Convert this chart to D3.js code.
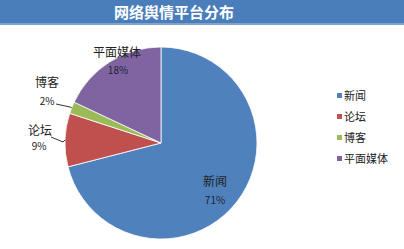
<!DOCTYPE html>
<html>
<head>
<meta charset="utf-8">
<script src="https://cdn.jsdelivr.net/npm/d3@7"></script>
<style>
  body { margin: 0; background: #fff; }
  text { font-family: "Noto Sans CJK SC", sans-serif; }
</style>
</head>
<body>
<div id="chart"></div>
<script>
// data
const categories = ["新闻", "论坛", "博客", "平面媒体"];
const values = [71, 9, 2, 18];
const colors = ["#4F81BD", "#C0504D", "#9BBB59", "#8064A2"];
const title = "网络舆情平台分布";

const w = 404, h = 249;
const cx = 161, cy = 143, r = 96;

const svg = d3.select("#chart").append("svg")
    .attr("width", w)
    .attr("height", h);

// title bar
svg.append("rect")
    .attr("x", 0).attr("y", 0)
    .attr("width", w).attr("height", 25)
    .attr("fill", "#4A7EBB");
svg.append("rect")
    .attr("x", 0).attr("y", 23)
    .attr("width", w).attr("height", 2)
    .attr("fill", "#7FA3D0");
svg.append("text")
    .attr("x", 174).attr("y", 18)
    .attr("text-anchor", "middle")
    .attr("fill", "#fff")
    .attr("font-size", 15)
    .attr("font-weight", "bold")
    .text(title);

const pie = d3.pie().sort(null).value(d => d);
const arcs = pie(values);
const arc = d3.arc().innerRadius(0).outerRadius(r);

const g = svg.append("g").attr("transform", `translate(${cx},${cy})`);
g.selectAll("path")
    .data(arcs)
    .enter().append("path")
    .attr("d", arc)
    .attr("fill", (d, i) => colors[i])
    .attr("stroke", "#fff")
    .attr("stroke-width", 0.8);

// labels: [name dx,dy, pct dx,dy] relative to center, anchor middle
const labelPos = [
  { name: [54, 43], pct: [54, 61] },
  { name: [-121, -8], pct: [-122, 7] },
  { name: [-114, -56], pct: [-114, -38] },
  { name: [-44, -86], pct: [-43, -69] }
];
arcs.forEach((d, i) => {
  const p = labelPos[i];
  g.append("text")
      .attr("x", p.name[0]).attr("y", p.name[1])
      .attr("text-anchor", "middle")
      .attr("font-size", 12)
      .attr("fill", "#222")
      .text(categories[i]);
  g.append("text")
      .attr("x", p.pct[0]).attr("y", p.pct[1])
      .attr("text-anchor", "middle")
      .attr("font-size", 10)
      .attr("fill", i == 0 || i == 3 ? "#223" : "#222")
      .text(Math.round(values[i]) + "%");
});

// leader lines for small slices
const leaders = [
  [1, [-110, -6], [-98, -1]],
  [2, [-105, -39], [-91, -36]]
];
leaders.forEach(l => {
  const mid = arc.centroid(arcs[l[0]]);
  const ang = (arcs[l[0]].startAngle + arcs[l[0]].endAngle) / 2;
  const ex = Math.sin(ang) * r, ey = -Math.cos(ang) * r;
  g.append("polyline")
      .attr("points", [l[1], l[2], [ex, ey]].map(p => p.join(",")).join(" "))
      .attr("fill", "none")
      .attr("stroke", "#000")
      .attr("stroke-width", 0.8);
});

// legend
const legend = svg.append("g").attr("transform", "translate(337,96)");
categories.forEach((c, i) => {
  legend.append("rect")
      .attr("x", 0).attr("y", i * 21 - 3)
      .attr("width", 5).attr("height", 5)
      .attr("fill", colors[i]);
  legend.append("text")
      .attr("x", 7).attr("y", i * 21 + 4)
      .attr("font-size", 11)
      .attr("fill", "#222")
      .text(c);
});
</script>
</body>
</html>
